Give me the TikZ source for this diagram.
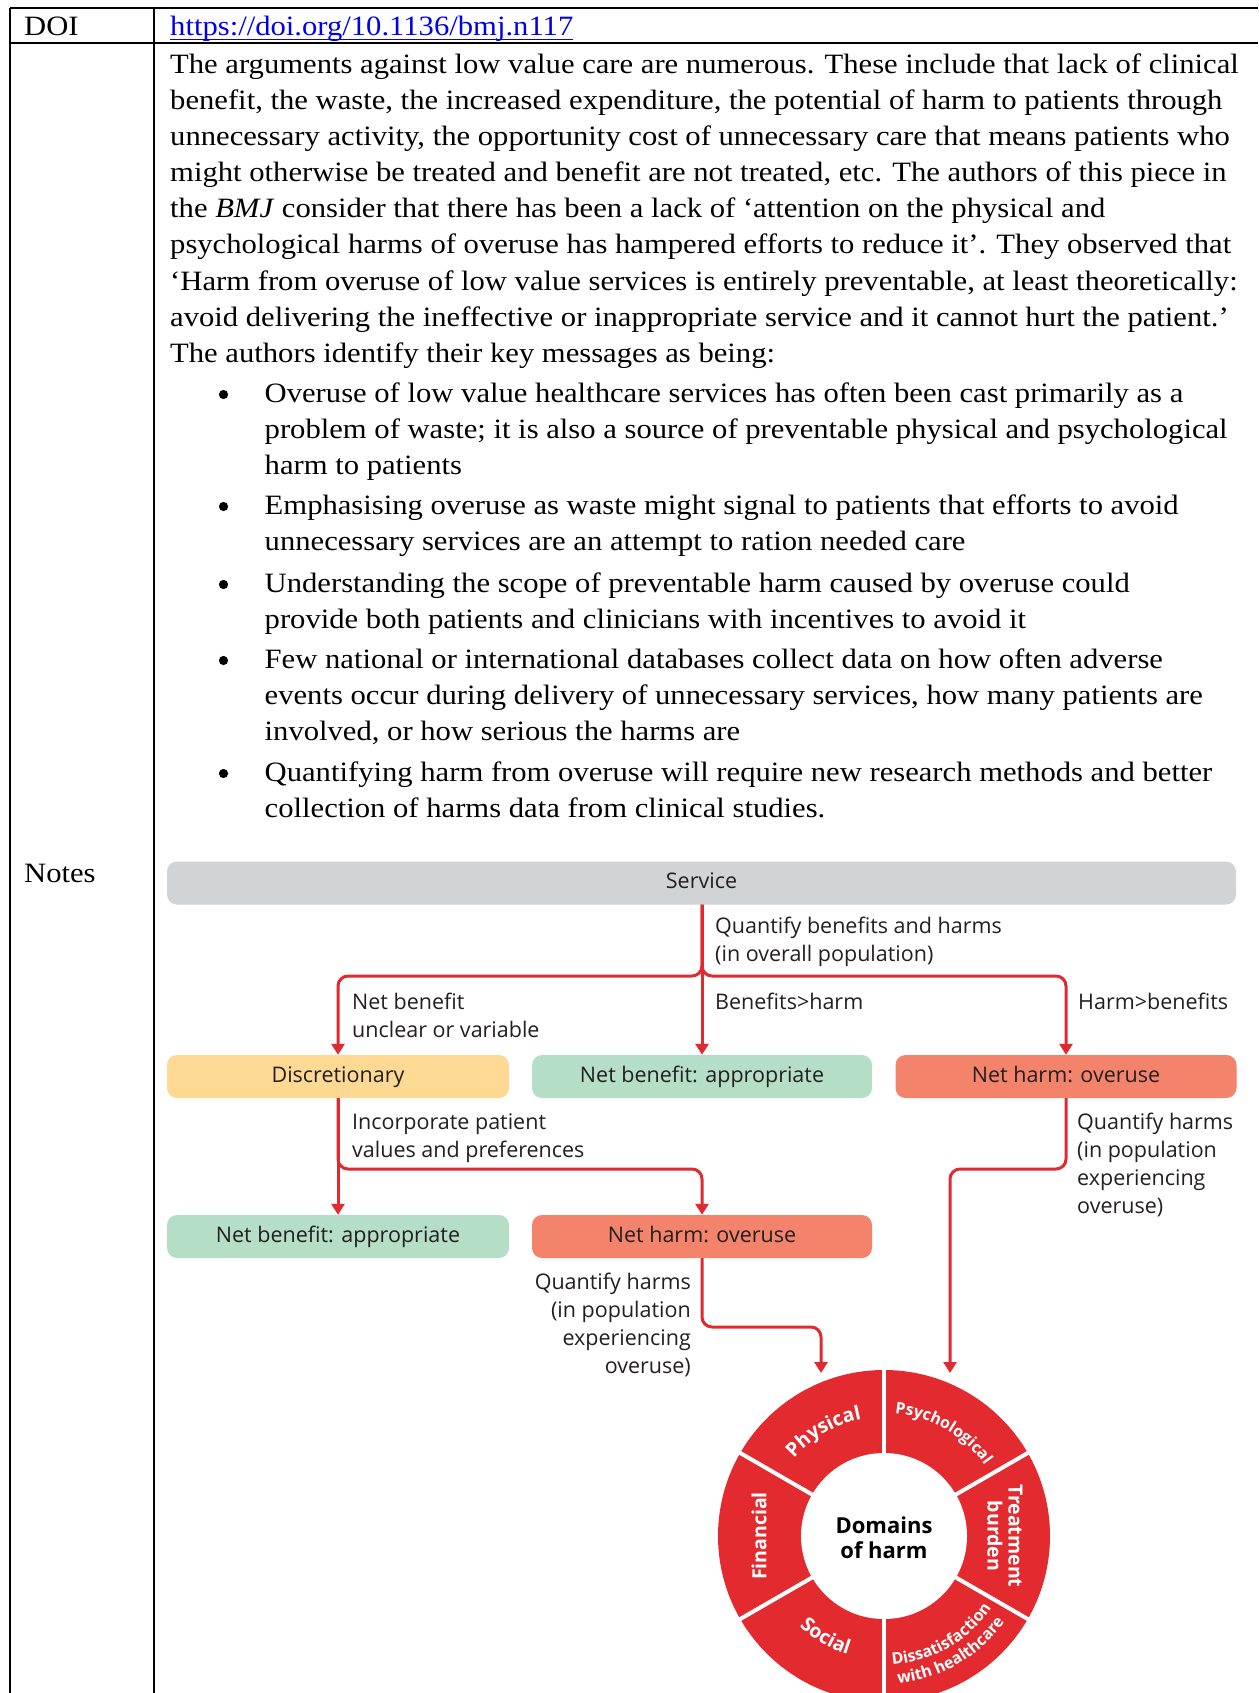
\documentclass[tikz,border=0pt]{standalone}
\usepackage{fontspec}
\setmainfont{Liberation Serif}
\newfontfamily\bodyfont[FakeStretch=1.094]{Liberation Serif}
\newfontfamily\bmjfont{Open Sans}
\usetikzlibrary{arrows.meta,decorations.text}
\definecolor{ringred}{HTML}{E32A2F}
\definecolor{arrred}{HTML}{DF2B30}
\definecolor{svcgrey}{HTML}{D1D3D4}
\definecolor{discyel}{HTML}{FDD993}
\definecolor{nbgreen}{HTML}{B4DEC5}
\definecolor{nhsalmon}{HTML}{F3836B}
\definecolor{txtdark}{HTML}{231F20}
\definecolor{linkblue}{HTML}{0000EE}
\newcommand\ringfont{\bmjfont\bfseries\fontsize{19.5}{20}\selectfont\color{white}}
\newcommand\ringfontmd{\bmjfont\bfseries\fontsize{16}{18}\selectfont\color{white}}
\newcommand\ringfontsm{\bmjfont\bfseries\fontsize{16}{18}\selectfont\color{white}}
\begin{document}
\begin{tikzpicture}[x=1pt,y=1pt,
  box/.style={rounded corners=10pt, minimum height=43pt, inner sep=0pt,
    text height=15.5pt, text depth=4.5pt,
    font=\bmjfont\fontsize{21.5}{26}\selectfont, text=txtdark},
  lab/.style={inner sep=0pt, font=\bmjfont\fontsize{21.5}{28}\selectfont, text=txtdark},
  arr/.style={draw=arrred, line width=3pt, rounded corners=10pt,
    -{Triangle[width=13pt,length=11pt]}},
  body/.style={inner sep=0pt, anchor=north west, align=left,
    font=\bodyfont\fontsize{28}{36.05}\selectfont},
  tline/.style={line width=2.6pt},
  ringlab/.style={inner sep=0pt, font=\ringfont, text=white, align=center},
  bulletdot/.style={fill=black}
]
\useasboundingbox (0,0) rectangle (1258,-1693);

% table rules
\draw[tline] (10,-8) -- (1258,-8);
\draw[tline] (10,-43) -- (1258,-43);
\draw[tline] (10,-8) -- (10,-1693);
\draw[tline] (154,-8) -- (154,-1693);

% header cells
\node[anchor=base west, inner sep=0pt, font=\bodyfont\fontsize{28}{34}\selectfont] (doi) at (24,-36) {DOI};
\node[anchor=base west, inner sep=0pt, font=\bodyfont\fontsize{28}{34}\selectfont, text=linkblue] (url) at (170,-36) {https://doi.org/10.1136/bmj.n117};
\draw[linkblue, line width=1.4pt] ([yshift=-3.5pt]url.base west) -- ([yshift=-3.5pt]url.base east);
\node[anchor=base west, inner sep=0pt, font=\bodyfont\fontsize{28}{34}\selectfont] (notes) at (24,-882) {Notes};

% body text
\node[body] (para) at (170,-48.3) {\strut The arguments against low value care are numerous. These include that lack of clinical\\
benefit, the waste, the increased expenditure, the potential of harm to patients through\\
unnecessary activity, the opportunity cost of unnecessary care that means patients who\\
might otherwise be treated and benefit are not treated, etc. The authors of this piece in\\
the \emph{BMJ} consider that there has been a lack of ‘attention on the physical and\\
psychological harms of overuse has hampered efforts to reduce it’. They observed that\\
‘Harm from overuse of low value services is entirely preventable, at least theoretically:\\
avoid delivering the ineffective or inappropriate service and it cannot hurt the patient.’\\
The authors identify their key messages as being:};

\node[body] (bA) at (264.5,-377.3) {\strut Overuse of low value healthcare services has often been cast primarily as a\\
problem of waste; it is also a source of preventable physical and psychological\\
harm to patients};
\node[body] (bB) at (264.5,-489.3) {\strut Emphasising overuse as waste might signal to patients that efforts to avoid\\
unnecessary services are an attempt to ration needed care};
\node[body] (bC) at (264.5,-567.3) {\strut Understanding the scope of preventable harm caused by overuse could\\
provide both patients and clinicians with incentives to avoid it};
\node[body] (bD) at (264.5,-643.3) {\strut Few national or international databases collect data on how often adverse\\
events occur during delivery of unnecessary services, how many patients are\\
involved, or how serious the harms are};
\node[body] (bE) at (264.5,-756.3) {\strut Quantifying harm from overuse will require new research methods and better\\
collection of harms data from clinical studies.};
\foreach \yb in {402.5,514.5,592.5,668.5,781.5} \fill[bulletdot] (223.5,-\yb+8) circle (4.6pt);

% flowchart boxes
\node[box, fill=svcgrey, minimum width=1069pt] (service) at (701.5,-883) {Service};
\node[box, fill=discyel, minimum width=342pt] (disc) at (338,-1076.5) {Discretionary};
\node[box, fill=nbgreen, minimum width=340pt] (nbA) at (702,-1076.5) {Net benefit: appropriate};
\node[box, fill=nhsalmon, minimum width=341pt] (nhA) at (1066,-1076.5) {Net harm: overuse};
\node[box, fill=nbgreen, minimum width=342pt] (nbB) at (338,-1236.5) {Net benefit: appropriate};
\node[box, fill=nhsalmon, minimum width=340pt] (nhB) at (702,-1236.5) {Net harm: overuse};

\coordinate (splitA) at (702,-976);
\coordinate (splitB) at (338,-1169);
\coordinate (turnA) at (821,-1327);
\coordinate (tipA) at (821,-1373);
\coordinate (turnB) at (950,-1169);
\coordinate (tipB) at (950,-1373);
\coordinate (ctr) at (884,-1536);

% connectors
\draw[arr] (service.south -| nbA.north) -- (nbA.north);
\draw[arr] (service.south -| nbA.north) -- (splitA) -| (disc.north);
\draw[arr] (service.south -| nbA.north) -- (splitA) -| (nhA.north);
\draw[arr] (disc.south) -- (nbB.north);
\draw[arr] (disc.south) -- (splitB) -| (nhB.north);
\draw[arr] (nhB.south) |- (turnA) -- (tipA);
\draw[arr] (nhA.south) |- (turnB) -- (tipB);

% connector labels
\node[lab, anchor=north west, align=left] (lqbh) at (715,-913.2) {\strut Quantify benefits and harms\\(in overall population)};
\node[lab, anchor=north west, align=left] (lnbu) at (352,-989.2) {\strut Net benefit\\unclear or variable};
\node[lab, anchor=north west, align=left] (lbgh) at (715,-989.2) {\strut Benefits>harm};
\node[lab, anchor=north west, align=left] (lhgb) at (1078,-989.2) {\strut Harm>benefits};
\node[lab, anchor=north west, align=left] (lipv) at (352,-1109.2) {\strut Incorporate patient\\values and preferences};
\node[lab, anchor=north west, align=left] (lqhR) at (1077,-1109.2) {\strut Quantify harms\\(in population\\experiencing\\overuse)};
\node[lab, anchor=north east, align=right] (lqhL) at (691,-1269.2) {\strut Quantify harms\\(in population\\experiencing\\overuse)};

% domains of harm ring
\begin{scope}
\clip (0,0) rectangle (1258,-1693);
\fill[ringred] (ctr) circle (166pt);
\fill[white] (ctr) circle (83pt);
\foreach \a in {30,90,150,210,270,330}
  \draw[white, line width=4pt] ([shift={(\a:81pt)}]ctr) -- ([shift={(\a:170pt)}]ctr);
\path[decorate, decoration={text along path, text align=center, text={|\ringfont|Physical}}]
  ([shift={(210:119pt)}]ctr) arc[start angle=210, end angle=30, radius=119pt];
\path[decorate, decoration={text along path, text align=center, text={|\ringfontmd|Psychological}}]
  ([shift={(150:123pt)}]ctr) arc[start angle=150, end angle=-30, radius=123pt];
\path[decorate, decoration={text along path, text align=center, text={|\ringfont|Social}}]
  ([shift={(150:124pt)}]ctr) arc[start angle=150, end angle=330, radius=124pt];
\path[decorate, decoration={text along path, text align=center, text={|\ringfontsm|Dissatisfaction}}]
  ([shift={(210:129pt)}]ctr) arc[start angle=210, end angle=390, radius=129pt];
\path[decorate, decoration={text along path, text align=center, text={|\ringfontsm|with healthcare}}]
  ([shift={(210:148pt)}]ctr) arc[start angle=210, end angle=390, radius=148pt];
\node[ringlab, rotate=90] (fin) at ([shift={(180:125pt)}]ctr) {Financial};
\node[ringlab, rotate=-90, font=\bmjfont\bfseries\fontsize{19.5}{21}\selectfont] (treat) at ([shift={(0:121pt)}]ctr) {Treatment\\burden};
\node[inner sep=0pt, align=center, text=black, font=\bmjfont\bfseries\fontsize{22}{25}\selectfont] (dom) at ([yshift=-2pt]ctr) {Domains\\of harm};
\end{scope}
\end{tikzpicture}
\end{document}
